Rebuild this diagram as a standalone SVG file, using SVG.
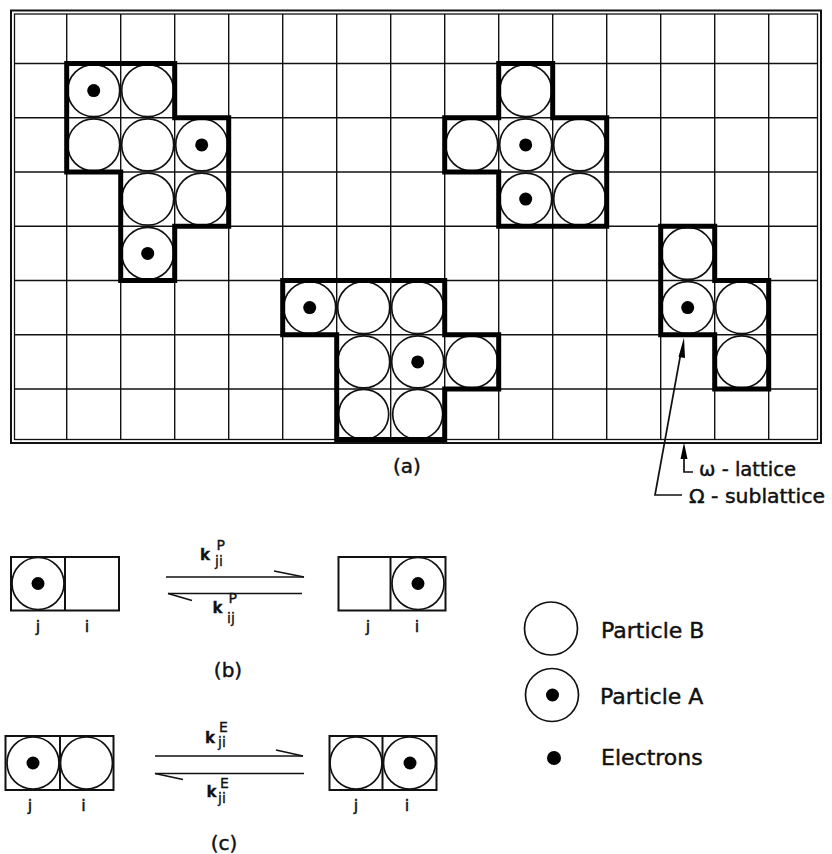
<svg xmlns="http://www.w3.org/2000/svg" width="832" height="854" viewBox="0 0 832 854">
  <style>
    .grid { stroke: #111; stroke-width: 1.4; fill: none; }
    .frame { fill: none; stroke: #111; }
    .cluster { fill: none; stroke: #000; stroke-width: 5; stroke-linejoin: miter; }
    .p { fill: none; stroke: #111; stroke-width: 1.7; }
    .e { fill: #000; }
    .box { fill: none; stroke: #111; stroke-width: 2; }
    .ln { fill: none; stroke: #111; stroke-width: 1.7; }
    .t { font-family: "DejaVu Sans", "Liberation Sans", sans-serif; fill: #111; stroke: #111; stroke-width: 0.45; }
    .k { font-family: "DejaVu Sans", "Liberation Sans", sans-serif; fill: #111; stroke: #111; stroke-width: 0.35; font-size: 14px; }
    .kb { font-weight: bold; font-size: 15px; }
  </style>

  <!-- (a) lattice frame and grid -->
  <g id="lattice">
    <rect class="frame" x="11" y="10.5" width="810" height="432.5" stroke-width="2"/>
    <rect class="frame" x="14.5" y="14" width="803" height="425.5" stroke-width="1.3"/>
    <g class="grid">
      <line x1="66.7" y1="14" x2="66.7" y2="439.5"/>
      <line x1="120.7" y1="14" x2="120.7" y2="439.5"/>
      <line x1="174.7" y1="14" x2="174.7" y2="439.5"/>
      <line x1="228.7" y1="14" x2="228.7" y2="439.5"/>
      <line x1="282.7" y1="14" x2="282.7" y2="439.5"/>
      <line x1="336.7" y1="14" x2="336.7" y2="439.5"/>
      <line x1="390.7" y1="14" x2="390.7" y2="439.5"/>
      <line x1="444.7" y1="14" x2="444.7" y2="439.5"/>
      <line x1="498.7" y1="14" x2="498.7" y2="439.5"/>
      <line x1="552.7" y1="14" x2="552.7" y2="439.5"/>
      <line x1="606.7" y1="14" x2="606.7" y2="439.5"/>
      <line x1="660.7" y1="14" x2="660.7" y2="439.5"/>
      <line x1="714.7" y1="14" x2="714.7" y2="439.5"/>
      <line x1="768.7" y1="14" x2="768.7" y2="439.5"/>
      <line x1="14.5" y1="63.5" x2="817.5" y2="63.5"/>
      <line x1="14.5" y1="117.75" x2="817.5" y2="117.75"/>
      <line x1="14.5" y1="172" x2="817.5" y2="172"/>
      <line x1="14.5" y1="226.25" x2="817.5" y2="226.25"/>
      <line x1="14.5" y1="280.5" x2="817.5" y2="280.5"/>
      <line x1="14.5" y1="334.75" x2="817.5" y2="334.75"/>
      <line x1="14.5" y1="389" x2="817.5" y2="389"/>
    </g>
    <text class="t" x="407" y="473" font-size="20" text-anchor="middle">(a)</text>
  </g>

  <!-- cluster top-left -->
  <g id="cluster-1">
    <circle class="p" cx="93.7" cy="90.6" r="26"/>
    <circle class="p" cx="147.7" cy="90.6" r="26"/>
    <circle class="p" cx="93.7" cy="144.9" r="26"/>
    <circle class="p" cx="147.7" cy="144.9" r="26"/>
    <circle class="p" cx="201.7" cy="144.9" r="26"/>
    <circle class="p" cx="147.7" cy="199.1" r="26"/>
    <circle class="p" cx="201.7" cy="199.1" r="26"/>
    <circle class="p" cx="147.7" cy="253.4" r="26"/>
    <circle class="e" cx="93.7" cy="90.6" r="6.5"/>
    <circle class="e" cx="201.7" cy="144.9" r="6.5"/>
    <circle class="e" cx="147.7" cy="253.4" r="6.5"/>
    <polygon class="cluster" points="66.7,63.5 174.7,63.5 174.7,117.75 228.7,117.75 228.7,226.25 174.7,226.25 174.7,280.5 120.7,280.5 120.7,172 66.7,172"/>
  </g>

  <!-- cluster top-right -->
  <g id="cluster-2">
    <circle class="p" cx="525.7" cy="90.6" r="26"/>
    <circle class="p" cx="471.7" cy="144.9" r="26"/>
    <circle class="p" cx="525.7" cy="144.9" r="26"/>
    <circle class="p" cx="579.7" cy="144.9" r="26"/>
    <circle class="p" cx="525.7" cy="199.1" r="26"/>
    <circle class="p" cx="579.7" cy="199.1" r="26"/>
    <circle class="e" cx="525.7" cy="144.9" r="6.5"/>
    <circle class="e" cx="525.7" cy="199.1" r="6.5"/>
    <polygon class="cluster" points="498.7,63.5 552.7,63.5 552.7,117.75 606.7,117.75 606.7,226.25 498.7,226.25 498.7,172 444.7,172 444.7,117.75 498.7,117.75"/>
  </g>

  <!-- cluster bottom-middle -->
  <g id="cluster-3">
    <circle class="p" cx="309.7" cy="307.6" r="26"/>
    <circle class="p" cx="363.7" cy="307.6" r="26"/>
    <circle class="p" cx="417.7" cy="307.6" r="26"/>
    <circle class="p" cx="363.7" cy="361.9" r="26"/>
    <circle class="p" cx="417.7" cy="361.9" r="26"/>
    <circle class="p" cx="471.7" cy="361.9" r="26"/>
    <circle class="p" cx="363.7" cy="414.3" r="25"/>
    <circle class="p" cx="417.7" cy="414.3" r="25"/>
    <circle class="e" cx="309.7" cy="307.6" r="6.5"/>
    <circle class="e" cx="417.7" cy="361.9" r="6.5"/>
    <polygon class="cluster" points="282.7,280.5 444.7,280.5 444.7,334.75 498.7,334.75 498.7,389 444.7,389 444.7,439.5 336.7,439.5 336.7,334.75 282.7,334.75"/>
  </g>

  <!-- cluster right -->
  <g id="cluster-4">
    <circle class="p" cx="687.7" cy="253.4" r="26"/>
    <circle class="p" cx="687.7" cy="307.6" r="26"/>
    <circle class="p" cx="741.7" cy="307.6" r="26"/>
    <circle class="p" cx="741.7" cy="361.9" r="26"/>
    <circle class="e" cx="687.7" cy="307.6" r="6.5"/>
    <polygon class="cluster" points="660.7,226.25 714.7,226.25 714.7,280.5 768.7,280.5 768.7,389 714.7,389 714.7,334.75 660.7,334.75"/>
  </g>

  <!-- lattice labels -->
  <g id="label-omega-small">
    <text class="t" x="699" y="476" font-size="19" textLength="97" lengthAdjust="spacingAndGlyphs">ω - lattice</text>
  </g>
  <g id="label-omega-large">
    <text class="t" x="689" y="503" font-size="19" textLength="136" lengthAdjust="spacingAndGlyphs">Ω - sublattice</text>
  </g>

  <!-- (b) particle hop -->
  <g id="hop-before">
    <rect class="box" x="11" y="557" width="108" height="53.5"/>
    <line class="box" x1="65" y1="557" x2="65" y2="610.5"/>
    <circle class="p" cx="38" cy="583.5" r="26"/>
    <circle class="e" cx="38" cy="583.5" r="6.5"/>
    <text class="t" x="38" y="632" font-size="16" text-anchor="middle">j</text>
    <text class="t" x="87" y="632" font-size="16" text-anchor="middle">i</text>
  </g>
  <g id="hop-after">
    <rect class="box" x="338.5" y="557" width="107" height="53.5"/>
    <line class="box" x1="390.5" y1="557" x2="390.5" y2="610.5"/>
    <circle class="p" cx="418" cy="583.5" r="26"/>
    <circle class="e" cx="418" cy="583.5" r="6.5"/>
    <text class="t" x="368" y="632" font-size="16" text-anchor="middle">j</text>
    <text class="t" x="417" y="632" font-size="16" text-anchor="middle">i</text>
  </g>
  <g id="hop-rates">
    <text class="k kb" x="200" y="560">k</text>
    <text class="k" x="216.5" y="550">P</text>
    <text class="k" x="215" y="565.5">ji</text>
    <text class="k kb" x="212.5" y="613">k</text>
    <text class="k" x="228.5" y="603">P</text>
    <text class="k" x="227" y="623">ij</text>
  </g>
  <text class="t" x="228" y="677" font-size="20" text-anchor="middle">(b)</text>

  <!-- (c) electron transfer -->
  <g id="transfer-before">
    <rect class="box" x="5.5" y="736" width="108" height="54"/>
    <line class="box" x1="60" y1="736" x2="60" y2="790"/>
    <circle class="p" cx="33" cy="763" r="26"/>
    <circle class="p" cx="86.5" cy="763" r="26"/>
    <circle class="e" cx="33" cy="763" r="6.5"/>
    <text class="t" x="30" y="811" font-size="16" text-anchor="middle">j</text>
    <text class="t" x="83.5" y="811" font-size="16" text-anchor="middle">i</text>
  </g>
  <g id="transfer-after">
    <rect class="box" x="329.5" y="736" width="107" height="54"/>
    <line class="box" x1="382.5" y1="736" x2="382.5" y2="790"/>
    <circle class="p" cx="356" cy="763" r="26"/>
    <circle class="p" cx="409.5" cy="763" r="26"/>
    <circle class="e" cx="410" cy="763" r="6.5"/>
    <text class="t" x="356" y="811" font-size="16" text-anchor="middle">j</text>
    <text class="t" x="407" y="811" font-size="16" text-anchor="middle">i</text>
  </g>
  <g id="transfer-rates">
    <text class="k kb" x="205" y="743">k</text>
    <text class="k" x="219" y="732">E</text>
    <text class="k" x="218" y="747">ji</text>
    <text class="k kb" x="206.5" y="797">k</text>
    <text class="k" x="220" y="788">E</text>
    <text class="k" x="218" y="802.5">ji</text>
  </g>
  <text class="t" x="224" y="850" font-size="20" text-anchor="middle">(c)</text>

  <!-- legend -->
  <g id="legend-particle-b">
    <circle class="p" cx="551" cy="628.5" r="26.5"/>
    <text class="t" x="601" y="638" font-size="22">Particle B</text>
  </g>
  <g id="legend-particle-a">
    <circle class="p" cx="552" cy="695" r="26.5"/>
    <circle class="e" cx="552.5" cy="695" r="6.5"/>
    <text class="t" x="600" y="704" font-size="22">Particle A</text>
  </g>
  <g id="legend-electron">
    <circle class="e" cx="554" cy="758" r="7"/>
    <text class="t" x="601" y="765" font-size="22">Electrons</text>
  </g>

  <!-- connectors: pointers and reaction arrows -->
  <g id="connectors">
    <!-- omega-lattice pointer -->
    <polyline class="ln" points="684,456 684,472 693,472"/>
    <polygon class="e" points="684,442.5 680.5,459 687.5,459"/>
    <!-- Omega-sublattice pointer -->
    <polyline class="ln" points="681,352 655,495 682,495"/>
    <polygon class="e" points="684,337.5 678.5,357 685,358"/>
    <!-- (b) reversible hop -->
    <line class="ln" x1="166" y1="577" x2="304" y2="577"/>
    <line class="ln" x1="304" y1="577" x2="274" y2="571"/>
    <line class="ln" x1="168" y1="593.5" x2="302" y2="593.5"/>
    <line class="ln" x1="168" y1="593.5" x2="192" y2="600.5"/>
    <!-- (c) reversible transfer -->
    <line class="ln" x1="155" y1="756" x2="303" y2="756"/>
    <line class="ln" x1="303" y1="756" x2="276" y2="750"/>
    <line class="ln" x1="155" y1="773.5" x2="304" y2="773.5"/>
    <line class="ln" x1="155" y1="773.5" x2="183" y2="779.5"/>
  </g>
</svg>
